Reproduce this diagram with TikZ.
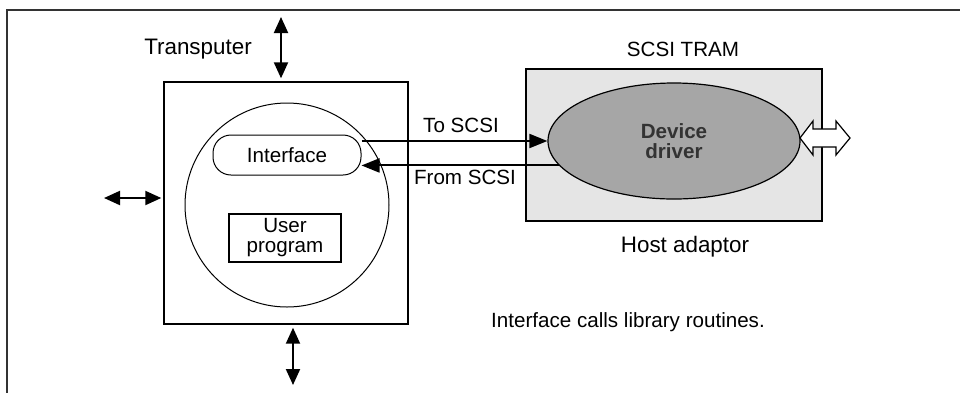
\documentclass[tikz,border=0pt]{standalone}
\usepackage{fontspec}
\setmainfont{Liberation Sans}
\usepackage{tikz}
\usetikzlibrary{shapes.geometric, arrows.meta, positioning, calc}

\tikzset{
  lbl/.style={font=\fontsize{10.3}{10}\selectfont},
  biglbl/.style={font=\fontsize{11.2}{12}\selectfont},
  bus/.style={line width=1pt, {Triangle[length=8pt,width=7pt]}-{Triangle[length=8pt,width=7pt]}},
  sig/.style={line width=1pt, -{Triangle[length=9pt,width=7pt]}},
}

\begin{document}
\begin{tikzpicture}[x=0.5pt, y=-0.5pt]
        \useasboundingbox (0,0) rectangle (960,393);
        % frame
        \draw[line width=0.75pt, black!80] (960,10) -- (7,10) -- (7,393);

        % Transputer
        \node[draw, line width=0.7pt, minimum width=122pt, minimum height=121pt, inner sep=0] (tp) at (286,203) {};
        \node[draw, circle, line width=0.5pt, minimum size=102pt, inner sep=0] (proc) at (287,205) {};
        \node[draw, rounded corners=9pt, line width=0.5pt, minimum width=74pt, minimum height=20pt, inner sep=0, lbl] (iface) at (287,155) {Interface};
        \node[draw, line width=0.6pt, minimum width=56pt, minimum height=24pt, inner sep=0, align=center, lbl] (user) at (285,238) {User\\program};
        \node[biglbl] (tplbl) at (198,49) {Transputer};

        % links
        \coordinate (tin) at (281,17);
        \coordinate (bout) at (293,385);
        \coordinate (lout) at (104,198);
        \draw[bus] (tin) -- ([yshift=1.5pt]tp.north -| tin);
        \draw[bus] ([yshift=-1.5pt]tp.south -| bout) -- (bout);
        \draw[bus] (lout) -- ([xshift=-1pt]tp.west |- lout);

        % SCSI TRAM
        \node[draw, line width=0.6pt, fill=black!10, minimum width=148pt, minimum height=76pt, inner sep=0] (tram) at (674,145) {};
        \node[draw, ellipse, line width=0.6pt, fill=black!35, minimum width=126pt, minimum height=58pt, inner sep=0, align=center, font=\fontsize{10.3}{10}\selectfont\bfseries, text=black!80] (drv) at (674,141) {Device\\driver};
        \node[lbl] (tramlbl) at (683,49) {SCSI TRAM};
        \node[biglbl] (hostlbl) at (685,247) {Host adaptor};
        \draw[line width=0.6pt, fill=white] (800,138) -- (813,121) -- (813,129) -- (836,129) -- (836,121) -- (850,138) -- (836,155) -- (836,147) -- (813,147) -- (813,155) -- cycle;

        % calls
        \draw[sig] (iface.east |- drv.west) -- (drv.west);
        \draw[sig] (drv.192) -- (drv.192 -| iface.east);
        \node[lbl] (tolbl) at (461,125) {To SCSI};
        \node[lbl] (fromlbl) at (465,177) {From SCSI};

        \node[lbl] (note) at (628,322) {Interface calls library routines.};
\end{tikzpicture}
\end{document}
